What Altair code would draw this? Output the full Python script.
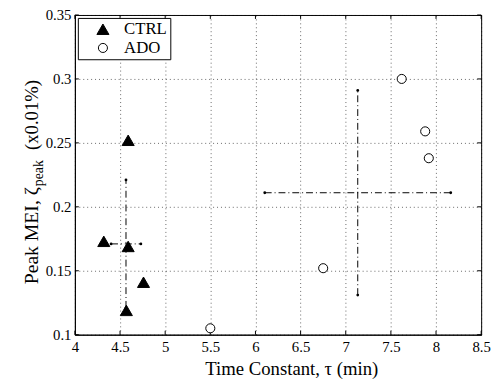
import altair as alt
import pandas as pd

# ---- data ----
ctrl_tau = [4.59, 4.32, 4.59, 4.76, 4.57]
ctrl_peak = [0.252, 0.173, 0.169, 0.141, 0.119]
ado_tau = [7.62, 7.88, 7.92, 6.75, 5.50]
ado_peak = [0.300, 0.259, 0.238, 0.152, 0.105]

groups = ["CTRL", "ADO"]
mean_tau = [4.566, 7.133]
mean_peak = [0.171, 0.211]
err_tau = [0.165, 1.03]
err_peak = [0.050, 0.080]

x_ticks = [4, 4.5, 5, 5.5, 6, 6.5, 7, 7.5, 8, 8.5]
y_ticks = [0.1, 0.15, 0.2, 0.25, 0.3, 0.35]

FONT = "Liberation Serif"
W, H = 413, 325

pts = pd.DataFrame({
    "tau": ctrl_tau + ado_tau,
    "peak": ctrl_peak + ado_peak,
    "group": ["CTRL"] * len(ctrl_tau) + ["ADO"] * len(ado_tau),
})

err = pd.DataFrame({
    "group": groups,
    "mt": mean_tau, "mp": mean_peak,
    "t0": [m - e for m, e in zip(mean_tau, err_tau)],
    "t1": [m + e for m, e in zip(mean_tau, err_tau)],
    "p0": [m - e for m, e in zip(mean_peak, err_peak)],
    "p1": [m + e for m, e in zip(mean_peak, err_peak)],
})
ends = pd.DataFrame({
    "tau": list(err["t0"]) + list(err["t1"]) + list(err["mt"]) + list(err["mt"]),
    "peak": list(err["mp"]) + list(err["mp"]) + list(err["p0"]) + list(err["p1"]),
})

xs = alt.Scale(domain=[4, 8.5], nice=False, zero=False)
ys = alt.Scale(domain=[0.1, 0.35], nice=False, zero=False)

xaxis = alt.Axis(values=x_ticks, title="Time Constant, τ (min)", format="~g")
yaxis = alt.Axis(values=y_ticks, title=None, format="~g")

leg = alt.Legend(title=None)
base_pts = alt.Chart(pts).mark_point(filled=False, strokeWidth=1, opacity=1).encode(
    x=alt.X("tau:Q", scale=xs, axis=xaxis),
    y=alt.Y("peak:Q", scale=ys, axis=yaxis),
    shape=alt.Shape("group:N", scale=alt.Scale(domain=groups, range=["triangle-up", "circle"]),
                    legend=leg),
    fill=alt.Fill("group:N", scale=alt.Scale(domain=groups, range=["black", "white"]),
                  legend=leg),
    stroke=alt.Stroke("group:N", scale=alt.Scale(domain=groups, range=["black", "black"]),
                      legend=leg),
    size=alt.Size("group:N", scale=alt.Scale(domain=groups, range=[150, 85]),
                  legend=leg),
)

dash = [7, 3, 1, 3]
hbar = alt.Chart(err).mark_rule(color="black", strokeDash=dash, strokeWidth=1).encode(
    x=alt.X("t0:Q", scale=xs, axis=xaxis), x2="t1:Q",
    y=alt.Y("mp:Q", scale=ys, axis=yaxis))
vbar = alt.Chart(err).mark_rule(color="black", strokeDash=dash, strokeWidth=1).encode(
    y=alt.Y("p0:Q", scale=ys, axis=yaxis), y2="p1:Q",
    x=alt.X("mt:Q", scale=xs, axis=xaxis))
enddots = alt.Chart(ends).mark_point(filled=True, color="black", size=8, opacity=1).encode(
    x=alt.X("tau:Q", scale=xs, axis=xaxis), y=alt.Y("peak:Q", scale=ys, axis=yaxis))

tdf = pd.DataFrame({"t": x_ticks})
vdf = pd.DataFrame({"v": y_ticks})
tick_len = 4
xt_bot = alt.Chart(tdf).mark_rule(color="black").encode(
    x=alt.X("t:Q", scale=xs, axis=xaxis), y=alt.value(H), y2=alt.value(H - tick_len))
xt_top = alt.Chart(tdf).mark_rule(color="black").encode(
    x=alt.X("t:Q", scale=xs, axis=xaxis), y=alt.value(0), y2=alt.value(tick_len))
yt_left = alt.Chart(vdf).mark_rule(color="black").encode(
    y=alt.Y("v:Q", scale=ys, axis=yaxis), x=alt.value(0), x2=alt.value(tick_len))
yt_right = alt.Chart(vdf).mark_rule(color="black").encode(
    y=alt.Y("v:Q", scale=ys, axis=yaxis), x=alt.value(W), x2=alt.value(W - tick_len))

ttl = pd.DataFrame({"a": [0]})
t_main = alt.Chart(ttl).mark_text(text="Peak MEI, ζ", font=FONT, fontSize=20, angle=270,
                                  align="right", baseline="alphabetic", color="black").encode(
    x=alt.value(-37), y=alt.value(175))
t_sub = alt.Chart(ttl).mark_text(text="peak", font=FONT, fontSize=14, angle=270,
                                 align="left", baseline="alphabetic", color="black").encode(
    x=alt.value(-32), y=alt.value(174))
t_unit = alt.Chart(ttl).mark_text(text="(x0.01%)", font=FONT, fontSize=19, angle=270,
                                  align="right", baseline="alphabetic", color="black").encode(
    x=alt.value(-37), y=alt.value(66))

chart = alt.layer(
    xt_bot, xt_top, yt_left, yt_right, hbar, vbar, enddots, base_pts,
    t_main, t_sub, t_unit,
).properties(
    width=W, height=H,
    autosize=alt.AutoSizeParams(type="none"),
    padding={"left": 68, "top": 4, "right": 10, "bottom": 46},
).configure_view(
    stroke="black", strokeWidth=1
).configure_axis(
    ticks=False, grid=True, gridDash=[1, 3], gridColor="#000", gridOpacity=0.6,
    labelFont=FONT, labelFontSize=15, labelColor="black", labelFlush=False,
    titleFont=FONT, titleFontSize=19, titleFontWeight="normal", titleColor="black",
    domainColor="black",
).configure_axisX(
    labelPadding=5, titlePadding=5, titleX=220, titleAlign="center",
).configure_axisY(
    labelPadding=4,
).configure_legend(
    orient="top-left", offset=3, padding=3, strokeColor="black", fillColor="white",
    labelFont=FONT, labelFontSize=17, labelColor="black", labelOffset=13,
    symbolOffset=14, rowPadding=1, cornerRadius=0, symbolStrokeWidth=1,
)

chart.save("out.html", embed_options={"renderer": "svg", "actions": False})
